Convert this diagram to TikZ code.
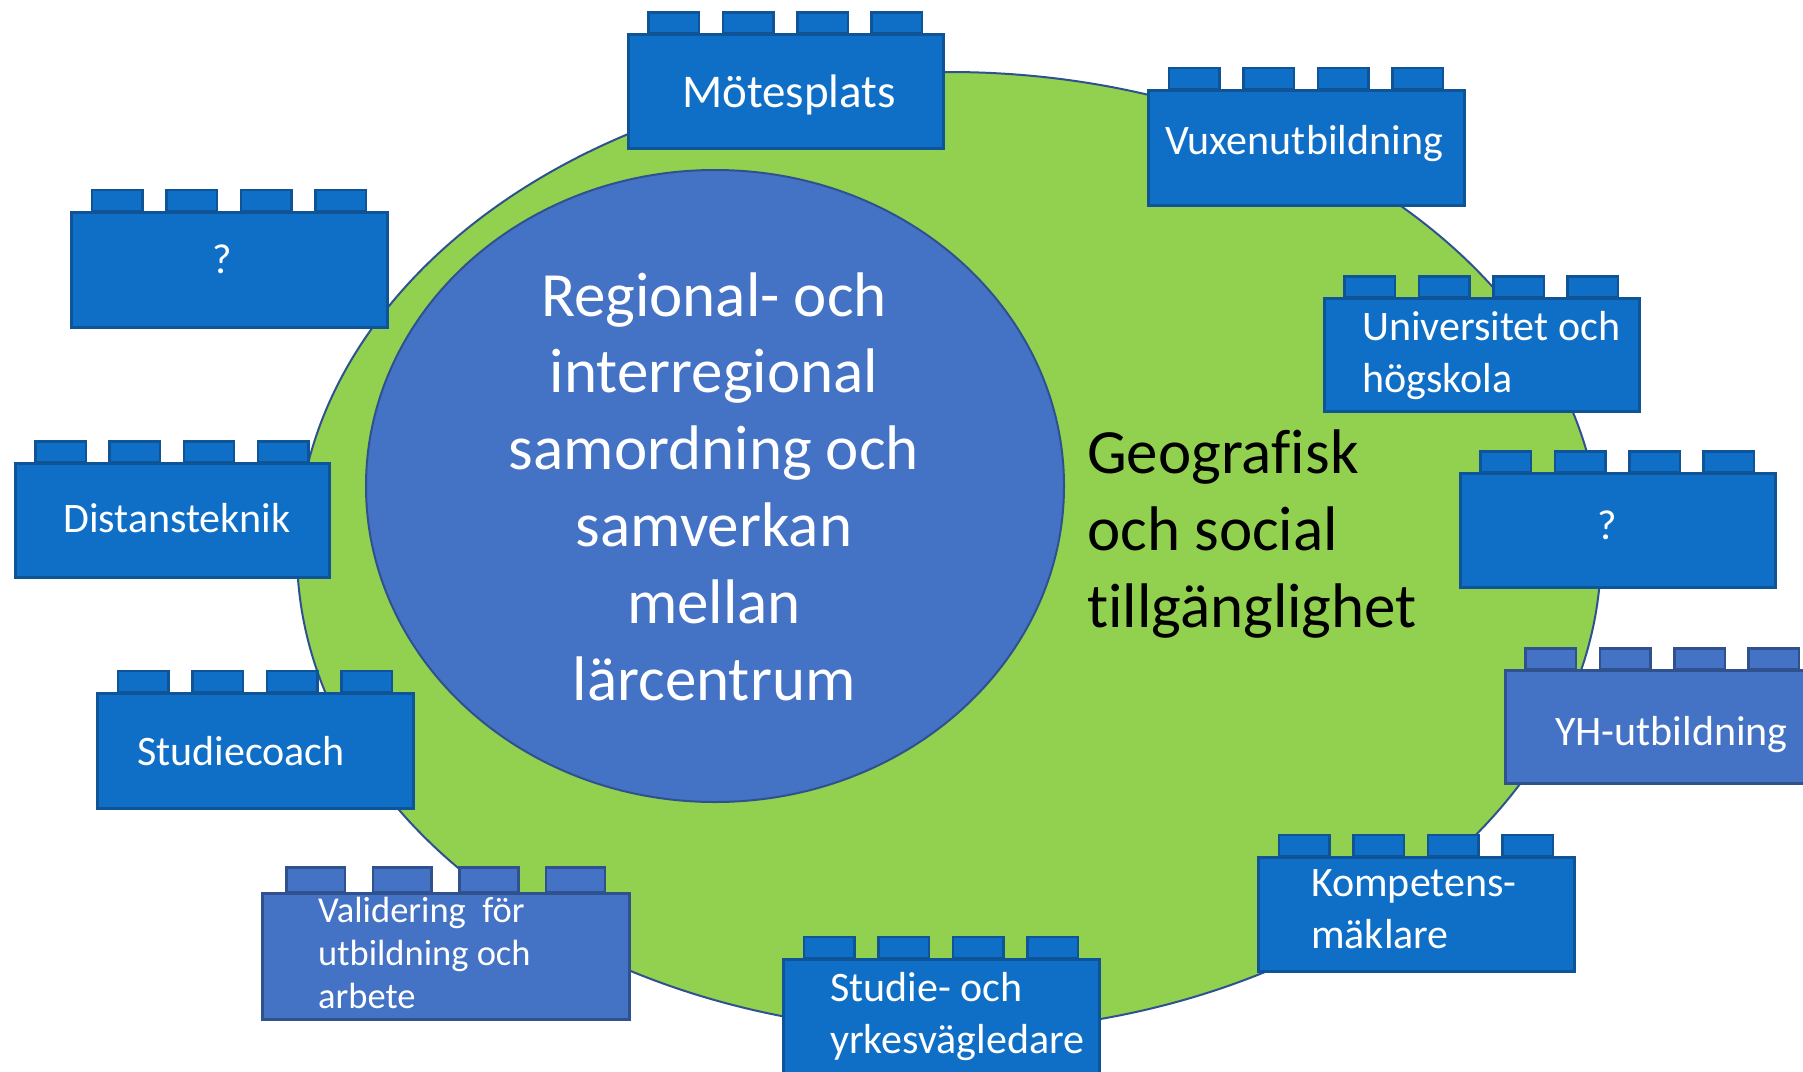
\documentclass[tikz,border=0pt]{standalone}
\usepackage{fontspec}
\setmainfont{Carlito}[Ligatures=NoCommon]
\usetikzlibrary{shapes.geometric}
\definecolor{brickblue}{HTML}{0F6FC6}
\definecolor{brickedge}{HTML}{0E5496}
\definecolor{lightblue}{HTML}{4472C4}
\definecolor{lightedge}{HTML}{2F528F}
\definecolor{leafgreen}{HTML}{92D050}
\tikzset{
  darkbrick/.style={fill=brickblue, draw=brickedge, line width=2.6pt},
  lightbrick/.style={fill=lightblue, draw=lightedge, line width=2.6pt},
  bricktext/.style={text=white, inner sep=0pt, font=\fontsize{42}{52}\selectfont, align=left},
  bigtext/.style={inner sep=0pt, font=\fontsize{63}{76.8}\selectfont},
}
\newcommand\legobrick[6]{%
  \foreach \k in {0,1,2,3} {
    \draw[#6] ({#2+0.069*#4+\k*0.236*#4}, #3) rectangle ++({0.160*#4}, {-0.066*#4});
  }
  \node[#6, minimum width=#4pt, minimum height=#5pt, anchor=north west, inner sep=0pt] (#1) at (#2,#3) {};
}
\begin{document}
\begin{tikzpicture}[x=1pt, y=-1pt]
\useasboundingbox (0,0) rectangle (1803,1071);
\clip (0,0) rectangle (1803,1071);
% ellipses
\node[ellipse, fill=leafgreen, draw=lightedge, line width=2pt, minimum width=1304pt, minimum height=960pt, inner sep=0pt] (outer) at (949,552) {};
\node[ellipse, fill=lightblue, draw=lightedge, line width=2pt, minimum width=698pt, minimum height=632pt, inner sep=0pt] (inner) at (715,486) {};
% multi-line nodes: the base anchor is the baseline of the last line
\node[bigtext, text=white, align=center, anchor=base] (centertext) at (714,700)
  {Regional- och\\interregional\\samordning och\\samverkan\\mellan\\lärcentrum};
\node[bigtext, text=black, align=left, anchor=base west] (geo) at (1087,627)
  {Geografisk\\och social\\tillgänglighet};
% bricks
\legobrick{mote}{627}{33}{315}{114}{darkbrick}
\node[bricktext, font=\fontsize{47}{56}\selectfont, anchor=base] (motet) at (789,107) {Mötesplats};
\legobrick{vuxen}{1147}{89}{316}{115}{darkbrick}
\node[bricktext, anchor=base] (vuxent) at (1304,154) {Vuxenutbildning};
\legobrick{qleft}{70}{211}{316}{115}{darkbrick}
\node[bricktext, anchor=base] (qleftt) at (222,273) {?};
\legobrick{univ}{1323}{297}{315}{113}{darkbrick}
\node[bricktext, anchor=base west] (univt) at (1362,392) {Universitet och\\högskola};
\legobrick{qright}{1459}{472}{315}{114}{darkbrick}
\node[bricktext, anchor=base] (qrightt) at (1607,539) {?};
\legobrick{dist}{14}{462}{314}{114}{darkbrick}
\node[bricktext, anchor=base west] (distt) at (63,532) {Distansteknik};
\legobrick{yh}{1504}{669}{315}{113}{lightbrick}
\node[bricktext, anchor=base west] (yht) at (1555,745) {YH-utbildning};
\legobrick{coach}{96}{692}{316}{115}{darkbrick}
\node[bricktext, anchor=base west] (coacht) at (137,765) {Studiecoach};
\legobrick{komp}{1257}{856}{316}{114}{darkbrick}
\node[bricktext, anchor=base west] (kompt) at (1311,948) {Kompetens-\\mäklare};
\legobrick{valid}{261}{892}{367}{126}{lightbrick}
\node[bricktext, font=\fontsize{36.5}{43}\selectfont, anchor=base west] (validt) at (318,1008) {Validering\ \ för\\utbildning och\\arbete};
\legobrick{studie}{782}{958}{316}{115}{darkbrick}
\node[bricktext, anchor=base west] (studiet) at (830,1053) {Studie- och\\yrkesvägledare};
\end{tikzpicture}
\end{document}
